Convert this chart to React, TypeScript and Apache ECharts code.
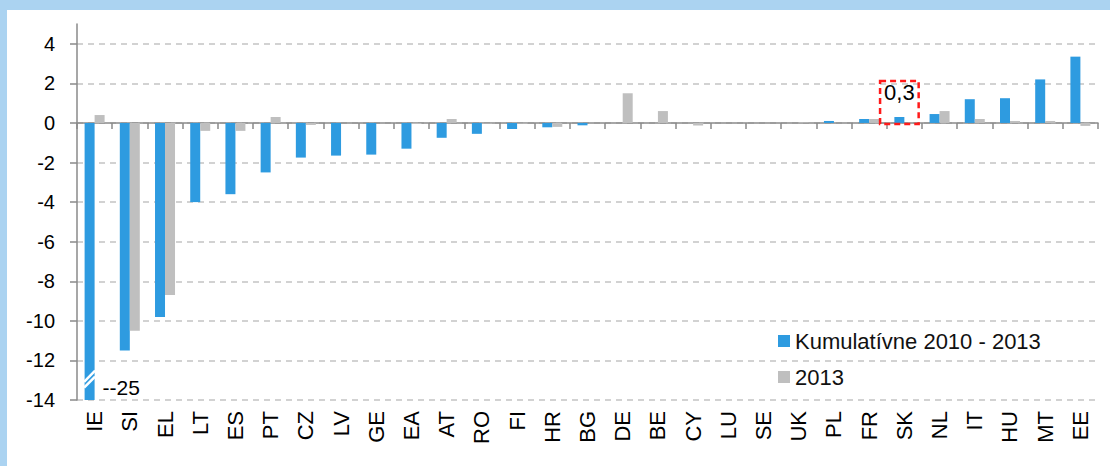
import React, { useEffect, useRef } from 'react';
import * as echarts from 'echarts';

const categories = ['IE', 'SI', 'EL', 'LT', 'ES', 'PT', 'CZ', 'LV', 'GE', 'EA', 'AT', 'RO', 'FI', 'HR', 'BG', 'DE', 'BE', 'CY', 'LU', 'SE', 'UK', 'PL', 'FR', 'SK', 'NL', 'IT', 'HU', 'MT', 'EE'];
const cumulative = [-25, -11.5, -9.8, -4.0, -3.6, -2.5, -1.75, -1.65, -1.6, -1.3, -0.75, -0.55, -0.3, -0.22, -0.12, 0, 0, 0, 0, 0, 0, 0.1, 0.2, 0.3, 0.45, 1.2, 1.25, 2.2, 3.35];
const year2013 = [0.4, -10.5, -8.7, -0.4, -0.4, 0.3, -0.1, 0, 0, -0.05, 0.2, -0.03, -0.03, -0.2, 0, 1.5, 0.6, -0.13, 0, 0, 0.03, 0, 0.2, 0, 0.6, 0.2, 0.1, 0.1, -0.15];
const seriesNames = ['Kumulatívne 2010 - 2013', '2013'];
const yTicks = [-14, -12, -10, -8, -6, -4, -2, 0, 2, 4];
const yMin = -14;
const yMax = 5;
const highlightCategory = 'SK';
const highlightText = '0,3';
const breakCategory = 'IE';
const breakLabel = '--25';
const breakStripes = [-12.8, -13.1];
const breakLabelValue = -13.37;

const FONT = '"Liberation Sans", Arial, Helvetica, sans-serif';
const BLUE = '#2e9be0';
const GRAY = '#bfbfbf';
const AXIS = '#8a8a8a';

export default function App() {
  const ref = useRef<HTMLDivElement>(null);
  useEffect(() => {
    document.body.style.margin = '0';
    if (!ref.current) return;
    const chart = echarts.init(ref.current, undefined, { renderer: 'svg' });
    const breakIdx = categories.indexOf(breakCategory);
    const blueData = cumulative.map((v, i) =>
      categories[i] === highlightCategory
        ? {
            value: v,
            label: {
              show: true,
              position: 'insideBottom',
              distance: -1,
              formatter: highlightText,
              fontSize: 22,
              lineHeight: 22,
              fontFamily: FONT,
              color: '#000',
              borderColor: '#ff1a1a',
              borderWidth: 2.5,
              borderType: [6, 4],
              padding: [1, 4, 20, 4],
            },
          }
        : v
    );
    chart.setOption({
      animation: false,
      textStyle: { fontFamily: FONT },
      grid: { left: 77, right: 12, top: 24, bottom: 66, containLabel: false },
      legend: {
        data: seriesNames,
        orient: 'vertical',
        left: 778,
        top: 330,
        padding: 0,
        itemWidth: 12,
        itemHeight: 12,
        itemGap: 14,
        icon: 'rect',
        textStyle: { fontSize: 22, lineHeight: 22, color: '#111', fontFamily: FONT },
      },
      xAxis: [
        {
          type: 'category',
          data: categories,
          axisLine: { show: true, onZero: true, lineStyle: { color: AXIS, width: 1.5 } },
          axisTick: { show: true, length: 6, lineStyle: { color: AXIS, width: 1.5 } },
          axisLabel: { show: false },
          splitLine: { show: false },
        },
        {
          type: 'category',
          data: categories,
          position: 'bottom',
          axisLine: { show: false, onZero: false },
          axisTick: { show: false },
          axisLabel: { show: true, rotate: 90, interval: 0, fontSize: 22, color: '#000', margin: 11, fontFamily: FONT },
          splitLine: { show: false },
        },
      ],
      yAxis: {
        type: 'value',
        min: yMin,
        max: yMax,
        interval: 2,
        axisLine: { show: true, lineStyle: { color: AXIS, width: 1.5 } },
        axisTick: { show: true, length: 7, customValues: yTicks, lineStyle: { color: AXIS, width: 1.5 } },
        axisLabel: { fontSize: 20, color: '#000', margin: 22, customValues: yTicks, fontFamily: FONT },
        splitLine: { show: true, lineStyle: { color: '#c4c4c4', type: [6, 5], width: 1.5 } },
      },
      series: [
        {
          name: seriesNames[0],
          type: 'bar',
          xAxisIndex: 0,
          data: blueData,
          barWidth: 10,
          barGap: '0%',
          itemStyle: { color: BLUE },
          z: 2,
        },
        {
          name: seriesNames[1],
          type: 'bar',
          xAxisIndex: 0,
          data: year2013,
          barWidth: 10,
          barGap: '0%',
          itemStyle: { color: GRAY },
          z: 2,
        },
        {
          type: 'custom',
          xAxisIndex: 0,
          z: 5,
          silent: true,
          encode: { x: 0, y: 1 },
          data: [[breakIdx, cumulative[breakIdx]]],
          renderItem: (params: any, api: any) => {
            const idx = api.value(0);
            const children: any[] = breakStripes.map((v) => {
              const a = api.coord([idx, v - 0.28]);
              const b = api.coord([idx, v + 0.28]);
              return {
                type: 'line',
                shape: { x1: a[0] - 10.5, y1: a[1], x2: b[0] + 0.5, y2: b[1] },
                style: { stroke: '#ffffff', lineWidth: 2.5 },
              };
            });
            const t = api.coord([idx, breakLabelValue]);
            children.push({
              type: 'text',
              x: t[0] + 8,
              y: t[1],
              style: {
                text: breakLabel,
                fontSize: 21,
                fontFamily: FONT,
                fill: '#000',
                align: 'left',
                verticalAlign: 'middle',
              },
            });
            return { type: 'group', children };
          },
        },
      ],
    });
    return () => chart.dispose();
  }, []);
  return (
    <div style={{ position: 'relative', width: 1110, height: 466, background: '#fff', overflow: 'hidden' }}>
      <div ref={ref} style={{ position: 'absolute', left: 0, top: 0, width: 1110, height: 466 }} />
      <div style={{ position: 'absolute', left: 0, top: 0, width: 1110, height: 10, background: '#abd3f1' }} />
      <div style={{ position: 'absolute', left: 0, top: 0, width: 7, height: 466, background: '#abd3f1' }} />
    </div>
  );
}
